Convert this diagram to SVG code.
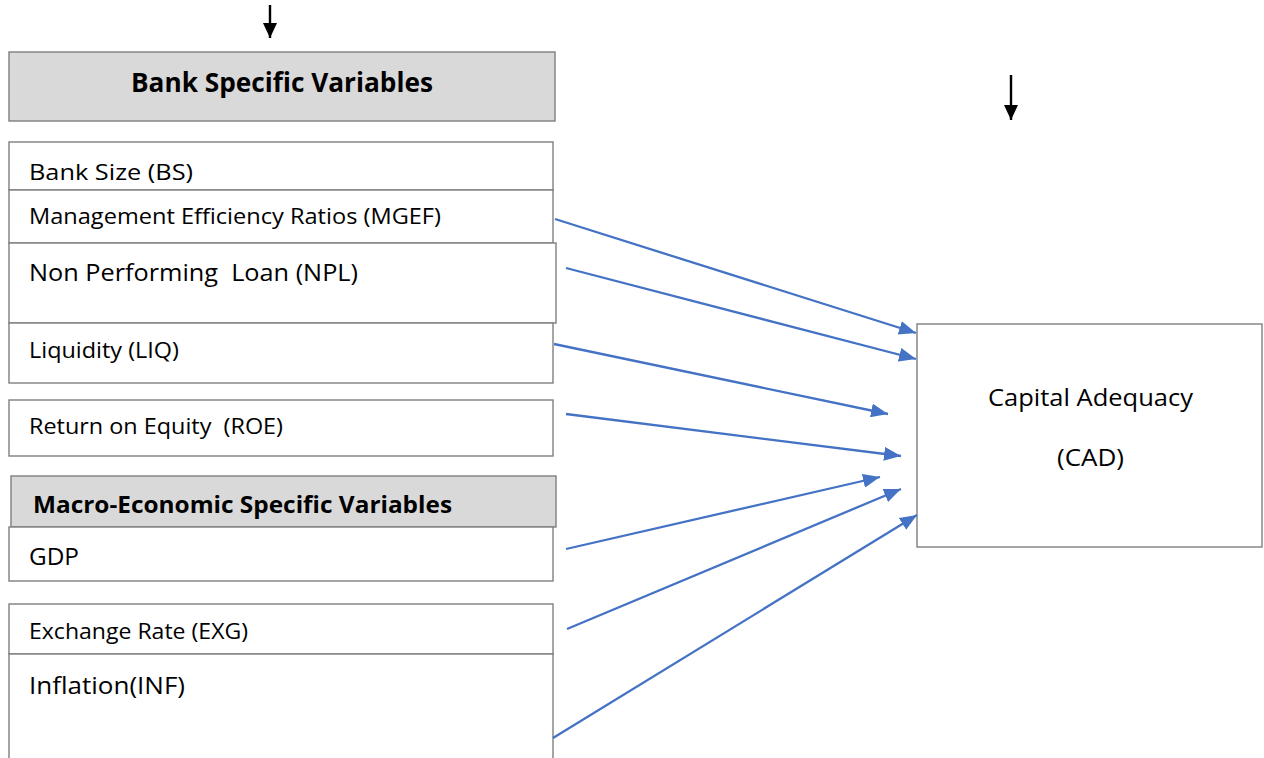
<svg xmlns="http://www.w3.org/2000/svg" width="1264" height="758" viewBox="0 0 1264 758">
<style>
.box{fill:#ffffff;stroke:#7f7f7f;stroke-width:1.4}
.hdr{fill:#d9d9d9;stroke:#7f7f7f;stroke-width:1.4}
.t{font-family:"Open Sans","Liberation Sans",sans-serif;fill:#000;white-space:pre}
.b{font-weight:bold}
.c{stroke:#4472c4;stroke-width:2.3;fill:none;marker-end:url(#ab)}
.k{stroke:#000;stroke-width:2.4;fill:none;marker-end:url(#ak)}
</style>
<defs>
<marker id="ab" markerWidth="18" markerHeight="14" refX="17" refY="7" orient="auto" markerUnits="userSpaceOnUse">
<path d="M0,0 L17,7 L0,14 Z" fill="#4472c4"/>
</marker>
<marker id="ak" markerWidth="16" markerHeight="14" refX="15" refY="7" orient="auto" markerUnits="userSpaceOnUse">
<path d="M0,0 L15,7 L0,14 Z" fill="#000"/>
</marker>
</defs>
<rect width="1264" height="758" fill="#ffffff"/>

<g id="arrows-black">
<line class="k" x1="270" y1="5" x2="270" y2="38"/>
<line class="k" x1="1011" y1="75" x2="1011" y2="120"/>
</g>

<g id="node-bank-header">
<rect class="hdr" x="9" y="52" width="546" height="69"/>
<text class="t b" x="131" y="92" font-size="26" textLength="302" lengthAdjust="spacingAndGlyphs">Bank Specific Variables</text>
</g>

<g id="node-bs">
<rect class="box" x="9" y="142" width="544" height="48"/>
<text class="t" x="29" y="180" font-size="22.5" textLength="164" lengthAdjust="spacingAndGlyphs">Bank Size (BS)</text>
</g>

<g id="node-mgef">
<rect class="box" x="9" y="190" width="544" height="53"/>
<text class="t" x="29" y="224" font-size="21" textLength="412" lengthAdjust="spacingAndGlyphs">Management Efficiency Ratios (MGEF)</text>
</g>

<g id="node-npl">
<rect class="box" x="9" y="243" width="547" height="80"/>
<text class="t" x="29" y="281" font-size="23" textLength="329" lengthAdjust="spacingAndGlyphs">Non Performing  Loan (NPL)</text>
</g>

<g id="node-liq">
<rect class="box" x="9" y="323" width="544" height="60"/>
<text class="t" x="29" y="358" font-size="21" textLength="150" lengthAdjust="spacingAndGlyphs">Liquidity (LIQ)</text>
</g>

<g id="node-roe">
<rect class="box" x="9" y="400" width="544" height="56"/>
<text class="t" x="29" y="434" font-size="21" textLength="254" lengthAdjust="spacingAndGlyphs">Return on Equity  (ROE)</text>
</g>

<g id="node-macro-header">
<rect class="hdr" x="11" y="476" width="545" height="51"/>
<text class="t b" x="33" y="513" font-size="23" textLength="419" lengthAdjust="spacingAndGlyphs">Macro-Economic Specific Variables</text>
</g>

<g id="node-gdp">
<rect class="box" x="9" y="527" width="544" height="54"/>
<text class="t" x="29" y="565" font-size="23" textLength="50" lengthAdjust="spacingAndGlyphs">GDP</text>
</g>

<g id="node-exg">
<rect class="box" x="9" y="604" width="544" height="50"/>
<text class="t" x="29" y="639" font-size="21" textLength="219" lengthAdjust="spacingAndGlyphs">Exchange Rate (EXG)</text>
</g>

<g id="node-inf">
<rect class="box" x="9" y="654" width="544" height="120"/>
<text class="t" x="29" y="694" font-size="23" textLength="156" lengthAdjust="spacingAndGlyphs">Inflation(INF)</text>
</g>

<g id="node-cad">
<rect class="box" x="917" y="324" width="345" height="223"/>
<text class="t" x="988" y="406" font-size="24" textLength="205" lengthAdjust="spacingAndGlyphs">Capital Adequacy</text>
<text class="t" x="1057" y="466" font-size="24" textLength="67" lengthAdjust="spacingAndGlyphs">(CAD)</text>
</g>

<g id="connectors">
<line class="c" x1="555" y1="219" x2="916" y2="333"/>
<line class="c" x1="566" y1="268" x2="916" y2="359"/>
<line class="c" x1="554" y1="344" x2="888" y2="414"/>
<line class="c" x1="566" y1="414" x2="901" y2="456"/>
<line class="c" x1="566" y1="549" x2="880" y2="477"/>
<line class="c" x1="567" y1="629" x2="901" y2="489"/>
<line class="c" x1="553" y1="738" x2="917" y2="515"/>
</g>
</svg>
